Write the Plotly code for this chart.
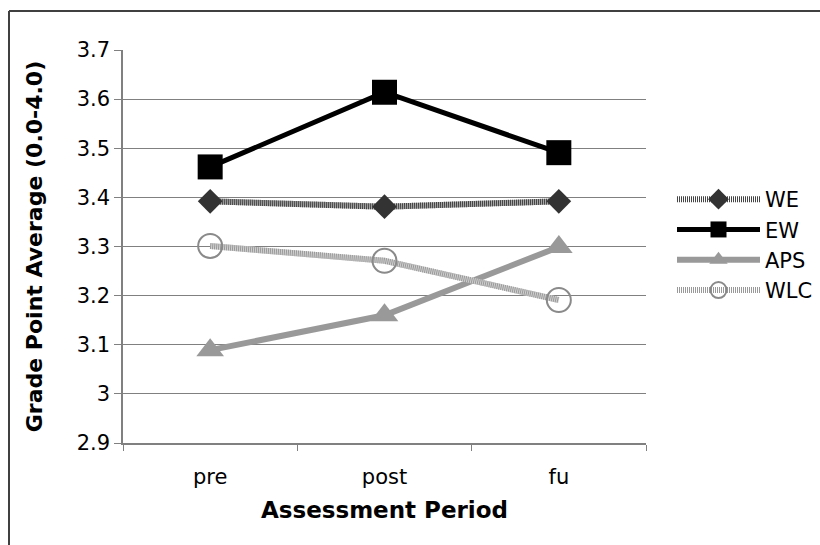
import plotly.graph_objects as go

periods = ["pre", "post", "fu"]
we = [3.392, 3.381, 3.392]
ew = [3.462, 3.614, 3.491]
aps = [3.089, 3.160, 3.299]
wlc = [3.301, 3.271, 3.191]
y_ticks = [2.9, 3.0, 3.1, 3.2, 3.3, 3.4, 3.5, 3.6, 3.7]
y_tick_labels = ["2.9", "3", "3.1", "3.2", "3.3", "3.4", "3.5", "3.6", "3.7"]

W, H = 820, 545
L, R, T, B = 123, 174, 50, 102
pw, ph = W - L - R, H - T - B

def px2paper_x(px):
    return (px - L) / pw

def px2paper_y(py):
    return (H - B - py) / ph

FONT = "DejaVu Sans"

fig = go.Figure()
# WE: hatched dark line (base + texture overlay)
fig.add_trace(go.Scatter(
    x=periods, y=we, name="WE", mode="lines", legendgroup="WE", showlegend=False,
    line=dict(color="#a8a8a8", width=6), hoverinfo="skip",
))
fig.add_trace(go.Scatter(
    x=periods, y=we, name="WE", mode="lines+markers", legendgroup="WE",
    line=dict(color="#444444", width=6, dash="1px,1px"),
    marker=dict(symbol="diamond", size=19, color="#333333"),
))
fig.add_trace(go.Scatter(
    x=periods, y=ew, name="EW", mode="lines+markers",
    line=dict(color="#000000", width=5),
    marker=dict(symbol="square", size=25, color="#000000"),
))
fig.add_trace(go.Scatter(
    x=periods, y=aps, name="APS", mode="lines+markers",
    line=dict(color="#999999", width=6),
    marker=dict(symbol="triangle-up", size=24, color="#999999"),
))
# WLC: hatched light line (base + texture overlay)
fig.add_trace(go.Scatter(
    x=periods, y=wlc, name="WLC", mode="lines", legendgroup="WLC", showlegend=False,
    line=dict(color="#d0d0d0", width=6), hoverinfo="skip",
))
fig.add_trace(go.Scatter(
    x=periods, y=wlc, name="WLC", mode="lines+markers", legendgroup="WLC",
    line=dict(color="#999999", width=6, dash="1px,1px"),
    marker=dict(symbol="circle-open", size=24, color="#8a8a8a",
                line=dict(width=2, color="#8a8a8a")),
))

fig.update_layout(
    width=W, height=H,
    margin=dict(l=L, r=R, t=T, b=B, autoexpand=False),
    paper_bgcolor="white", plot_bgcolor="white",
    font=dict(family=FONT, size=20, color="#000000"),
    showlegend=True,
    legend=dict(xref="container", yref="container",
                x=672 / W, xanchor="left", y=1 - 245 / H, yanchor="middle",
                font=dict(family=FONT, size=21, color="#000000"),
                bgcolor="rgba(0,0,0,0)", itemwidth=83, tracegroupgap=0),
    xaxis=dict(
        type="category", range=[-0.5, 2.5],
        showline=True, linecolor="#808080", linewidth=1.5,
        ticks="outside", tickson="boundaries", ticklen=6, tickcolor="#808080",
        showgrid=False, zeroline=False,
        tickfont=dict(family=FONT, size=21, color="#000000"),
        ticklabelstandoff=14,
        title=dict(text="<b>Assessment Period</b>", font=dict(family=FONT, size=23), standoff=14),
    ),
    yaxis=dict(
        range=[2.9, 3.7], tickvals=y_ticks, ticktext=y_tick_labels,
        showline=True, linecolor="#808080", linewidth=1.5,
        ticks="outside", ticklen=7, tickcolor="#808080",
        showgrid=True, gridcolor="#808080", gridwidth=1.2,
        zeroline=False,
        tickfont=dict(family=FONT, size=21, color="#000000"),
        title=dict(text="<b>Grade Point Average (0.0-4.0)</b>", font=dict(family=FONT, size=22), standoff=28),
    ),
    shapes=[
        dict(type="line", xref="paper", yref="paper",
             x0=px2paper_x(9), x1=px2paper_x(830), y0=px2paper_y(11), y1=px2paper_y(11),
             line=dict(color="#404040", width=2)),
        dict(type="line", xref="paper", yref="paper",
             x0=px2paper_x(9), x1=px2paper_x(9), y0=px2paper_y(11), y1=px2paper_y(560),
             line=dict(color="#404040", width=2)),
    ],
)

fig.write_html("out.html")
